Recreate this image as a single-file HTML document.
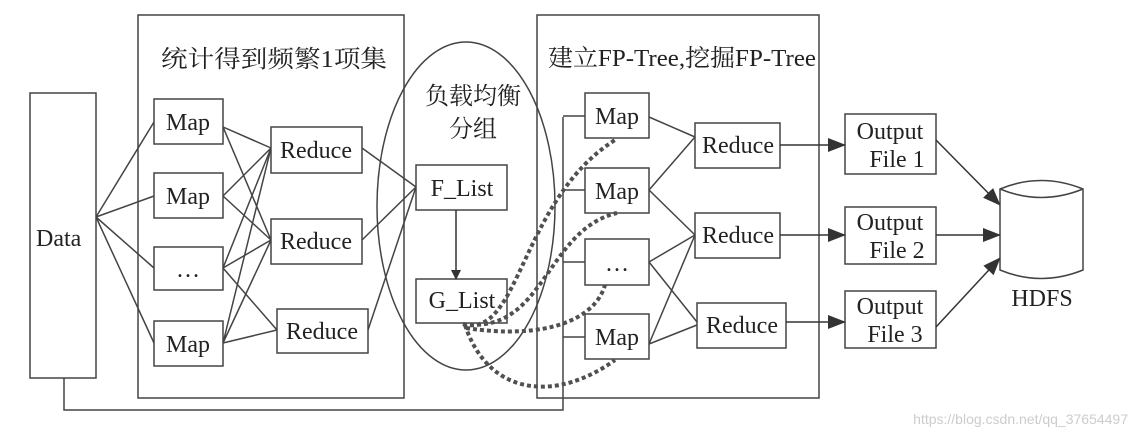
<!DOCTYPE html>
<html><head><meta charset="utf-8"><style>
body{margin:0;background:#fff}
svg text{font-family:"Liberation Serif","Noto Serif CJK SC",serif;fill:#222}
</style></head><body>
<svg width="1138" height="438" viewBox="0 0 1138 438" xmlns="http://www.w3.org/2000/svg">
<defs><marker id="a" markerWidth="10" markerHeight="10" refX="9" refY="5" orient="auto" markerUnits="userSpaceOnUse"><path d="M0,0 L10,5 L0,10 z" fill="#333"/></marker>
<marker id="b" markerWidth="18" markerHeight="14" refX="17" refY="7" orient="auto" markerUnits="userSpaceOnUse"><path d="M0,0 L18,7 L0,14 z" fill="#333"/></marker></defs>
<g stroke="#444" stroke-width="1.5" fill="none">
<rect x="138" y="15" width="266" height="383"/>
<rect x="537" y="15" width="282" height="383"/>
<rect x="30" y="93" width="66" height="285" fill="#fff"/>
<ellipse cx="466" cy="206" rx="89" ry="164"/>
<path d="M64,378 V410 H563 V117"/>
<path d="M563,116 H585 M563,190 H585 M563,262 H585 M563,337 H585"/>
<path d="M96,217 L154,122 M96,217 L154,196 M96,217 L154,268 M96,217 L154,343"/>
<path d="M223,127 L271,148 M223,127 L271,240 M223,196 L271,148 M223,196 L271,240 M223,268 L271,148 M223,268 L271,240 M223,268 L277,330 M223,343 L271,148 M223,343 L271,240 M223,343 L277,330"/>
<path d="M362,148 L416,187 M362,240 L416,187 M368,330 L416,187"/>
<path d="M649,117 L695,137 M649,190 L695,137 M649,190 L695,235 M649,262 L695,235 M649,262 L697,322 M649,344 L695,235 M649,344 L697,325"/>
</g>
<g stroke="#444" stroke-width="1.5" fill="#fff">
<rect x="154" y="99" width="69" height="45"/><rect x="154" y="173" width="69" height="45"/>
<rect x="154" y="247" width="69" height="43"/><rect x="154" y="321" width="69" height="45"/>
<rect x="271" y="127" width="91" height="46"/><rect x="271" y="219" width="91" height="45"/>
<rect x="277" y="309" width="91" height="44"/>
<rect x="416" y="165" width="91" height="45"/><rect x="416" y="279" width="91" height="44"/>
<rect x="585" y="93" width="64" height="45"/><rect x="585" y="168" width="64" height="45"/>
<rect x="585" y="239" width="64" height="46"/><rect x="585" y="314" width="64" height="45"/>
<rect x="695" y="123" width="85" height="45"/><rect x="695" y="213" width="85" height="45"/>
<rect x="697" y="303" width="89" height="45"/>
<rect x="845" y="114" width="91" height="60"/><rect x="845" y="207" width="91" height="57"/>
<rect x="845" y="291" width="91" height="57"/>
<path d="M1000,189 Q1041,172 1083,189 V270 Q1041,287 1000,270 Z"/>
<path d="M1000,189 Q1041,206 1083,189" fill="none"/>
</g>
<g stroke="#333" stroke-width="1.5" fill="none">
<path d="M456,210 V279" marker-end="url(#a)"/>
<path d="M780,145 H845" marker-end="url(#b)"/>
<path d="M780,235 H845" marker-end="url(#b)"/>
<path d="M786,322 H845" marker-end="url(#b)"/>
<path d="M936,140 L1000,205" marker-end="url(#b)"/>
<path d="M936,235 L1000,235" marker-end="url(#b)"/>
<path d="M936,327 L1000,258" marker-end="url(#b)"/>
</g>
<g stroke="#505050" stroke-width="4" stroke-dasharray="4 3" fill="none">
<path d="M463,324 C520,340 520,200 615,140"/>
<path d="M463,324 C545,335 545,230 617,213"/>
<path d="M466,328 C545,340 595,320 605,285"/>
<path d="M465,325 C490,400 560,400 615,360"/>
</g>
<g font-size="24">
<text x="36" y="246">Data</text>
<text x="188" y="130" text-anchor="middle">Map</text><text x="188" y="204" text-anchor="middle">Map</text>
<text x="188" y="277" text-anchor="middle">…</text><text x="188" y="352" text-anchor="middle">Map</text>
<text x="316" y="158" text-anchor="middle">Reduce</text><text x="316" y="249" text-anchor="middle">Reduce</text>
<text x="322" y="339" text-anchor="middle">Reduce</text>
<text x="462" y="196" text-anchor="middle">F_List</text><text x="462" y="308" text-anchor="middle">G_List</text>
<text x="617" y="124" text-anchor="middle">Map</text><text x="617" y="199" text-anchor="middle">Map</text>
<text x="617" y="271" text-anchor="middle">…</text><text x="617" y="345" text-anchor="middle">Map</text>
<text x="738" y="153" text-anchor="middle">Reduce</text><text x="738" y="243" text-anchor="middle">Reduce</text>
<text x="742" y="333" text-anchor="middle">Reduce</text>
<text x="890" y="139" text-anchor="middle">Output</text><text x="897" y="167" text-anchor="middle">File 1</text>
<text x="890" y="230" text-anchor="middle">Output</text><text x="897" y="258" text-anchor="middle">File 2</text>
<text x="890" y="314" text-anchor="middle">Output</text><text x="895" y="342" text-anchor="middle">File 3</text>
<text x="1042" y="306" text-anchor="middle">HDFS</text>
<text x="161" y="67" textLength="226" lengthAdjust="spacingAndGlyphs">统计得到频繁1项集</text>
<text x="473" y="104" text-anchor="middle">负载均衡</text>
<text x="473" y="137" text-anchor="middle">分组</text>
<text x="548" y="66" textLength="268" lengthAdjust="spacingAndGlyphs">建立FP-Tree,挖掘FP-Tree</text>
</g>
<text x="1128" y="424" text-anchor="end" font-size="14" style="font-family:'Liberation Sans',sans-serif;fill:#ccc">https://blog.csdn.net/qq_37654497</text>
</svg>
</body></html>
